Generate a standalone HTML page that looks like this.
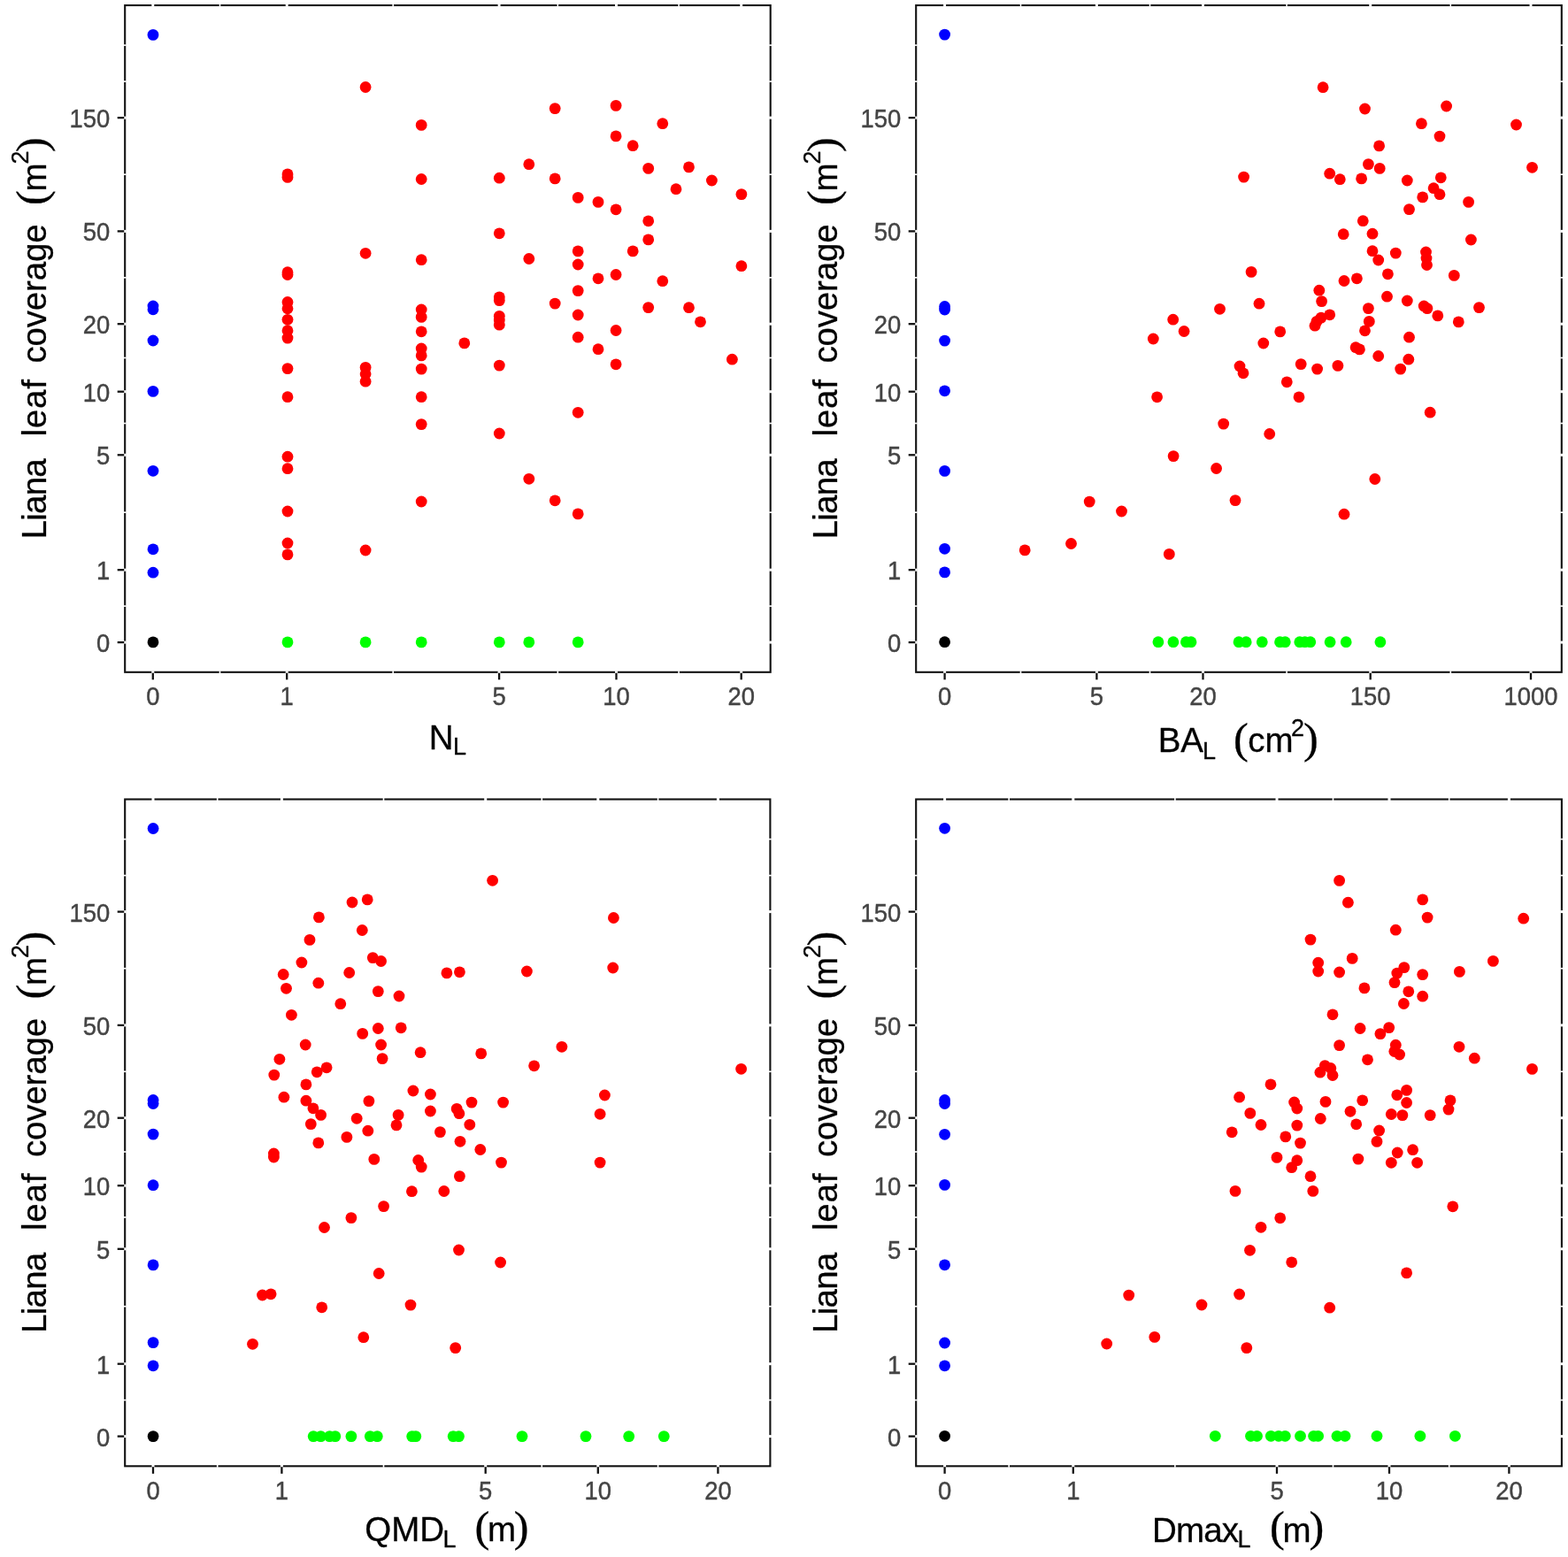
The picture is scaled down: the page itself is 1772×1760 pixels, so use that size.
<!DOCTYPE html><html><head><meta charset="utf-8"><style>html,body{margin:0;padding:0;background:#fff;overflow:hidden;}svg{display:block;}text{font-family:"Liberation Sans",Arial,sans-serif;} .t text{stroke:#000;stroke-width:0.3px;}</style></head><body>
<svg width="1772" height="1760" viewBox="0 0 1772 1760">
<rect width="1772" height="1760" fill="#fff"/>
<g id="TL">
<rect x="141.2" y="6" width="729.5" height="753.8" fill="none" stroke="#111111" stroke-width="2.1"/>
<line x1="248.5" y1="4.5" x2="248.5" y2="7.5" stroke="#fff" stroke-width="1.6"/>
<line x1="248.5" y1="758.3" x2="248.5" y2="761.3" stroke="#fff" stroke-width="1.6"/>
<line x1="444.2" y1="4.5" x2="444.2" y2="7.5" stroke="#fff" stroke-width="1.6"/>
<line x1="444.2" y1="758.3" x2="444.2" y2="761.3" stroke="#fff" stroke-width="1.6"/>
<line x1="630.3" y1="4.5" x2="630.3" y2="7.5" stroke="#fff" stroke-width="1.6"/>
<line x1="630.3" y1="758.3" x2="630.3" y2="761.3" stroke="#fff" stroke-width="1.6"/>
<line x1="767.1" y1="4.5" x2="767.1" y2="7.5" stroke="#fff" stroke-width="1.6"/>
<line x1="767.1" y1="758.3" x2="767.1" y2="761.3" stroke="#fff" stroke-width="1.6"/>
<line x1="172.8" y1="4.5" x2="172.8" y2="7.5" stroke="#fff" stroke-width="3"/>
<line x1="172.8" y1="758.3" x2="172.8" y2="761.3" stroke="#fff" stroke-width="3"/>
<line x1="324.2" y1="4.5" x2="324.2" y2="7.5" stroke="#fff" stroke-width="3"/>
<line x1="324.2" y1="758.3" x2="324.2" y2="761.3" stroke="#fff" stroke-width="3"/>
<line x1="564.1" y1="4.5" x2="564.1" y2="7.5" stroke="#fff" stroke-width="3"/>
<line x1="564.1" y1="758.3" x2="564.1" y2="761.3" stroke="#fff" stroke-width="3"/>
<line x1="696.5" y1="4.5" x2="696.5" y2="7.5" stroke="#fff" stroke-width="3"/>
<line x1="696.5" y1="758.3" x2="696.5" y2="761.3" stroke="#fff" stroke-width="3"/>
<line x1="837.7" y1="4.5" x2="837.7" y2="7.5" stroke="#fff" stroke-width="3"/>
<line x1="837.7" y1="758.3" x2="837.7" y2="761.3" stroke="#fff" stroke-width="3"/>
<line x1="139.7" y1="685.1" x2="142.7" y2="685.1" stroke="#fff" stroke-width="1.6"/>
<line x1="869.2" y1="685.1" x2="872.2" y2="685.1" stroke="#fff" stroke-width="1.6"/>
<line x1="139.7" y1="579.2" x2="142.7" y2="579.2" stroke="#fff" stroke-width="1.6"/>
<line x1="869.2" y1="579.2" x2="872.2" y2="579.2" stroke="#fff" stroke-width="1.6"/>
<line x1="139.7" y1="478.5" x2="142.7" y2="478.5" stroke="#fff" stroke-width="1.6"/>
<line x1="869.2" y1="478.5" x2="872.2" y2="478.5" stroke="#fff" stroke-width="1.6"/>
<line x1="139.7" y1="404.5" x2="142.7" y2="404.5" stroke="#fff" stroke-width="1.6"/>
<line x1="869.2" y1="404.5" x2="872.2" y2="404.5" stroke="#fff" stroke-width="1.6"/>
<line x1="139.7" y1="313.8" x2="142.7" y2="313.8" stroke="#fff" stroke-width="1.6"/>
<line x1="869.2" y1="313.8" x2="872.2" y2="313.8" stroke="#fff" stroke-width="1.6"/>
<line x1="139.7" y1="197.2" x2="142.7" y2="197.2" stroke="#fff" stroke-width="1.6"/>
<line x1="869.2" y1="197.2" x2="872.2" y2="197.2" stroke="#fff" stroke-width="1.6"/>
<line x1="139.7" y1="92.1" x2="142.7" y2="92.1" stroke="#fff" stroke-width="1.6"/>
<line x1="869.2" y1="92.1" x2="872.2" y2="92.1" stroke="#fff" stroke-width="1.6"/>
<line x1="139.7" y1="51.1" x2="142.7" y2="51.1" stroke="#fff" stroke-width="1.6"/>
<line x1="869.2" y1="51.1" x2="872.2" y2="51.1" stroke="#fff" stroke-width="1.6"/>
<line x1="869.2" y1="726.1" x2="872.2" y2="726.1" stroke="#fff" stroke-width="3"/>
<line x1="139.7" y1="726.1" x2="142.7" y2="726.1" stroke="#fff" stroke-width="3"/>
<line x1="869.2" y1="644.2" x2="872.2" y2="644.2" stroke="#fff" stroke-width="3"/>
<line x1="139.7" y1="644.2" x2="142.7" y2="644.2" stroke="#fff" stroke-width="3"/>
<line x1="869.2" y1="514.3" x2="872.2" y2="514.3" stroke="#fff" stroke-width="3"/>
<line x1="139.7" y1="514.3" x2="142.7" y2="514.3" stroke="#fff" stroke-width="3"/>
<line x1="869.2" y1="442.7" x2="872.2" y2="442.7" stroke="#fff" stroke-width="3"/>
<line x1="139.7" y1="442.7" x2="142.7" y2="442.7" stroke="#fff" stroke-width="3"/>
<line x1="869.2" y1="366.2" x2="872.2" y2="366.2" stroke="#fff" stroke-width="3"/>
<line x1="139.7" y1="366.2" x2="142.7" y2="366.2" stroke="#fff" stroke-width="3"/>
<line x1="869.2" y1="261.4" x2="872.2" y2="261.4" stroke="#fff" stroke-width="3"/>
<line x1="139.7" y1="261.4" x2="142.7" y2="261.4" stroke="#fff" stroke-width="3"/>
<line x1="869.2" y1="133.1" x2="872.2" y2="133.1" stroke="#fff" stroke-width="3"/>
<line x1="139.7" y1="133.1" x2="142.7" y2="133.1" stroke="#fff" stroke-width="3"/>
<line x1="172.8" y1="760.7" x2="172.8" y2="768.3" stroke="#111111" stroke-width="2.3"/>
<text transform="translate(172.8,797) scale(1,1.07)" font-size="27.4" fill="#444444" stroke="#444444" stroke-width="0.4" text-anchor="middle">0</text>
<line x1="324.2" y1="760.7" x2="324.2" y2="768.3" stroke="#111111" stroke-width="2.3"/>
<text transform="translate(324.2,797) scale(1,1.07)" font-size="27.4" fill="#444444" stroke="#444444" stroke-width="0.4" text-anchor="middle">1</text>
<line x1="564.1" y1="760.7" x2="564.1" y2="768.3" stroke="#111111" stroke-width="2.3"/>
<text transform="translate(564.1,797) scale(1,1.07)" font-size="27.4" fill="#444444" stroke="#444444" stroke-width="0.4" text-anchor="middle">5</text>
<line x1="696.5" y1="760.7" x2="696.5" y2="768.3" stroke="#111111" stroke-width="2.3"/>
<text transform="translate(696.5,797) scale(1,1.07)" font-size="27.4" fill="#444444" stroke="#444444" stroke-width="0.4" text-anchor="middle">10</text>
<line x1="837.7" y1="760.7" x2="837.7" y2="768.3" stroke="#111111" stroke-width="2.3"/>
<text transform="translate(837.7,797) scale(1,1.07)" font-size="27.4" fill="#444444" stroke="#444444" stroke-width="0.4" text-anchor="middle">20</text>
<line x1="132.7" y1="726.1" x2="140.3" y2="726.1" stroke="#111111" stroke-width="2.3"/>
<text transform="translate(124.2,737.1) scale(1,1.07)" font-size="27.4" fill="#444444" stroke="#444444" stroke-width="0.4" text-anchor="end">0</text>
<line x1="132.7" y1="644.2" x2="140.3" y2="644.2" stroke="#111111" stroke-width="2.3"/>
<text transform="translate(124.2,655.2) scale(1,1.07)" font-size="27.4" fill="#444444" stroke="#444444" stroke-width="0.4" text-anchor="end">1</text>
<line x1="132.7" y1="514.3" x2="140.3" y2="514.3" stroke="#111111" stroke-width="2.3"/>
<text transform="translate(124.2,525.3) scale(1,1.07)" font-size="27.4" fill="#444444" stroke="#444444" stroke-width="0.4" text-anchor="end">5</text>
<line x1="132.7" y1="442.7" x2="140.3" y2="442.7" stroke="#111111" stroke-width="2.3"/>
<text transform="translate(124.2,453.7) scale(1,1.07)" font-size="27.4" fill="#444444" stroke="#444444" stroke-width="0.4" text-anchor="end">10</text>
<line x1="132.7" y1="366.2" x2="140.3" y2="366.2" stroke="#111111" stroke-width="2.3"/>
<text transform="translate(124.2,377.2) scale(1,1.07)" font-size="27.4" fill="#444444" stroke="#444444" stroke-width="0.4" text-anchor="end">20</text>
<line x1="132.7" y1="261.4" x2="140.3" y2="261.4" stroke="#111111" stroke-width="2.3"/>
<text transform="translate(124.2,272.4) scale(1,1.07)" font-size="27.4" fill="#444444" stroke="#444444" stroke-width="0.4" text-anchor="end">50</text>
<line x1="132.7" y1="133.1" x2="140.3" y2="133.1" stroke="#111111" stroke-width="2.3"/>
<text transform="translate(124.2,144.1) scale(1,1.07)" font-size="27.4" fill="#444444" stroke="#444444" stroke-width="0.4" text-anchor="end">150</text>
<circle cx="173" cy="39.4" r="6.4" fill="#0000ff"/>
<circle cx="173" cy="346" r="6.4" fill="#0000ff"/>
<circle cx="173" cy="349.8" r="6.4" fill="#0000ff"/>
<circle cx="173" cy="385" r="6.4" fill="#0000ff"/>
<circle cx="173" cy="442.4" r="6.4" fill="#0000ff"/>
<circle cx="173" cy="532.3" r="6.4" fill="#0000ff"/>
<circle cx="173" cy="620.8" r="6.4" fill="#0000ff"/>
<circle cx="173" cy="647.2" r="6.4" fill="#0000ff"/>
<circle cx="173" cy="725.9" r="6.4" fill="#000000"/>
<circle cx="325" cy="196.8" r="6.4" fill="#ff0000"/>
<circle cx="325" cy="200.4" r="6.4" fill="#ff0000"/>
<circle cx="325" cy="307.7" r="6.4" fill="#ff0000"/>
<circle cx="325" cy="310.5" r="6.4" fill="#ff0000"/>
<circle cx="325" cy="341.5" r="6.4" fill="#ff0000"/>
<circle cx="325" cy="348.8" r="6.4" fill="#ff0000"/>
<circle cx="325" cy="361.3" r="6.4" fill="#ff0000"/>
<circle cx="325" cy="373.7" r="6.4" fill="#ff0000"/>
<circle cx="325" cy="382.1" r="6.4" fill="#ff0000"/>
<circle cx="325" cy="416.6" r="6.4" fill="#ff0000"/>
<circle cx="325" cy="448.7" r="6.4" fill="#ff0000"/>
<circle cx="325" cy="516.2" r="6.4" fill="#ff0000"/>
<circle cx="325" cy="529.7" r="6.4" fill="#ff0000"/>
<circle cx="325" cy="578" r="6.4" fill="#ff0000"/>
<circle cx="325" cy="614" r="6.4" fill="#ff0000"/>
<circle cx="325" cy="626.9" r="6.4" fill="#ff0000"/>
<circle cx="413.1" cy="98.5" r="6.4" fill="#ff0000"/>
<circle cx="413.1" cy="286.3" r="6.4" fill="#ff0000"/>
<circle cx="413.1" cy="415.4" r="6.4" fill="#ff0000"/>
<circle cx="413.1" cy="422.8" r="6.4" fill="#ff0000"/>
<circle cx="413.1" cy="431.2" r="6.4" fill="#ff0000"/>
<circle cx="413.1" cy="622" r="6.4" fill="#ff0000"/>
<circle cx="476.2" cy="141.4" r="6.4" fill="#ff0000"/>
<circle cx="476.2" cy="202.5" r="6.4" fill="#ff0000"/>
<circle cx="476.2" cy="293.7" r="6.4" fill="#ff0000"/>
<circle cx="476.2" cy="350" r="6.4" fill="#ff0000"/>
<circle cx="476.2" cy="358.4" r="6.4" fill="#ff0000"/>
<circle cx="476.2" cy="374.8" r="6.4" fill="#ff0000"/>
<circle cx="476.2" cy="394" r="6.4" fill="#ff0000"/>
<circle cx="476.2" cy="401.9" r="6.4" fill="#ff0000"/>
<circle cx="476.2" cy="417.1" r="6.4" fill="#ff0000"/>
<circle cx="476.2" cy="448.7" r="6.4" fill="#ff0000"/>
<circle cx="476.2" cy="479.6" r="6.4" fill="#ff0000"/>
<circle cx="476.2" cy="567" r="6.4" fill="#ff0000"/>
<circle cx="524.8" cy="387.9" r="6.4" fill="#ff0000"/>
<circle cx="564.3" cy="201.2" r="6.4" fill="#ff0000"/>
<circle cx="564.3" cy="263.8" r="6.4" fill="#ff0000"/>
<circle cx="564.3" cy="335.8" r="6.4" fill="#ff0000"/>
<circle cx="564.3" cy="339.6" r="6.4" fill="#ff0000"/>
<circle cx="564.3" cy="357.3" r="6.4" fill="#ff0000"/>
<circle cx="564.3" cy="362" r="6.4" fill="#ff0000"/>
<circle cx="564.3" cy="367.2" r="6.4" fill="#ff0000"/>
<circle cx="564.3" cy="413.1" r="6.4" fill="#ff0000"/>
<circle cx="564.3" cy="490" r="6.4" fill="#ff0000"/>
<circle cx="597.8" cy="185.7" r="6.4" fill="#ff0000"/>
<circle cx="597.8" cy="292.5" r="6.4" fill="#ff0000"/>
<circle cx="597.8" cy="541.3" r="6.4" fill="#ff0000"/>
<circle cx="627.2" cy="122.6" r="6.4" fill="#ff0000"/>
<circle cx="627.2" cy="201.9" r="6.4" fill="#ff0000"/>
<circle cx="627.2" cy="343.1" r="6.4" fill="#ff0000"/>
<circle cx="627.2" cy="565.8" r="6.4" fill="#ff0000"/>
<circle cx="653.2" cy="223.4" r="6.4" fill="#ff0000"/>
<circle cx="653.2" cy="283.9" r="6.4" fill="#ff0000"/>
<circle cx="653.2" cy="299" r="6.4" fill="#ff0000"/>
<circle cx="653.2" cy="328.6" r="6.4" fill="#ff0000"/>
<circle cx="653.2" cy="356" r="6.4" fill="#ff0000"/>
<circle cx="653.2" cy="381.2" r="6.4" fill="#ff0000"/>
<circle cx="653.2" cy="466.3" r="6.4" fill="#ff0000"/>
<circle cx="653.2" cy="580.9" r="6.4" fill="#ff0000"/>
<circle cx="676" cy="228.4" r="6.4" fill="#ff0000"/>
<circle cx="676" cy="314.8" r="6.4" fill="#ff0000"/>
<circle cx="676" cy="394.7" r="6.4" fill="#ff0000"/>
<circle cx="696.1" cy="119.4" r="6.4" fill="#ff0000"/>
<circle cx="696.1" cy="153.9" r="6.4" fill="#ff0000"/>
<circle cx="696.1" cy="236.8" r="6.4" fill="#ff0000"/>
<circle cx="696.1" cy="310.5" r="6.4" fill="#ff0000"/>
<circle cx="696.1" cy="373.5" r="6.4" fill="#ff0000"/>
<circle cx="696.1" cy="411.8" r="6.4" fill="#ff0000"/>
<circle cx="715.2" cy="164.7" r="6.4" fill="#ff0000"/>
<circle cx="715.2" cy="283.9" r="6.4" fill="#ff0000"/>
<circle cx="732.7" cy="190.4" r="6.4" fill="#ff0000"/>
<circle cx="732.7" cy="249.8" r="6.4" fill="#ff0000"/>
<circle cx="732.7" cy="270.9" r="6.4" fill="#ff0000"/>
<circle cx="732.7" cy="347.6" r="6.4" fill="#ff0000"/>
<circle cx="748.8" cy="139.7" r="6.4" fill="#ff0000"/>
<circle cx="748.8" cy="317.7" r="6.4" fill="#ff0000"/>
<circle cx="764" cy="213.7" r="6.4" fill="#ff0000"/>
<circle cx="778.5" cy="188.9" r="6.4" fill="#ff0000"/>
<circle cx="778.5" cy="347.7" r="6.4" fill="#ff0000"/>
<circle cx="791.5" cy="363.8" r="6.4" fill="#ff0000"/>
<circle cx="804.4" cy="204" r="6.4" fill="#ff0000"/>
<circle cx="827.4" cy="406.2" r="6.4" fill="#ff0000"/>
<circle cx="837.9" cy="219.6" r="6.4" fill="#ff0000"/>
<circle cx="837.9" cy="300.7" r="6.4" fill="#ff0000"/>
<circle cx="325" cy="725.9" r="6.4" fill="#00ff00"/>
<circle cx="413.1" cy="725.9" r="6.4" fill="#00ff00"/>
<circle cx="476.2" cy="725.9" r="6.4" fill="#00ff00"/>
<circle cx="564.3" cy="725.9" r="6.4" fill="#00ff00"/>
<circle cx="597.8" cy="725.9" r="6.4" fill="#00ff00"/>
<circle cx="653.2" cy="725.9" r="6.4" fill="#00ff00"/>
</g>
<g id="TR">
<rect x="1035.2" y="6" width="729.6" height="753.8" fill="none" stroke="#111111" stroke-width="2.1"/>
<line x1="1153.5" y1="4.5" x2="1153.5" y2="7.5" stroke="#fff" stroke-width="1.6"/>
<line x1="1153.5" y1="758.3" x2="1153.5" y2="761.3" stroke="#fff" stroke-width="1.6"/>
<line x1="1299.5" y1="4.5" x2="1299.5" y2="7.5" stroke="#fff" stroke-width="1.6"/>
<line x1="1299.5" y1="758.3" x2="1299.5" y2="761.3" stroke="#fff" stroke-width="1.6"/>
<line x1="1454.1" y1="4.5" x2="1454.1" y2="7.5" stroke="#fff" stroke-width="1.6"/>
<line x1="1454.1" y1="758.3" x2="1454.1" y2="761.3" stroke="#fff" stroke-width="1.6"/>
<line x1="1639.3" y1="4.5" x2="1639.3" y2="7.5" stroke="#fff" stroke-width="1.6"/>
<line x1="1639.3" y1="758.3" x2="1639.3" y2="761.3" stroke="#fff" stroke-width="1.6"/>
<line x1="1067.6" y1="4.5" x2="1067.6" y2="7.5" stroke="#fff" stroke-width="3"/>
<line x1="1067.6" y1="758.3" x2="1067.6" y2="761.3" stroke="#fff" stroke-width="3"/>
<line x1="1239.4" y1="4.5" x2="1239.4" y2="7.5" stroke="#fff" stroke-width="3"/>
<line x1="1239.4" y1="758.3" x2="1239.4" y2="761.3" stroke="#fff" stroke-width="3"/>
<line x1="1359.5" y1="4.5" x2="1359.5" y2="7.5" stroke="#fff" stroke-width="3"/>
<line x1="1359.5" y1="758.3" x2="1359.5" y2="761.3" stroke="#fff" stroke-width="3"/>
<line x1="1548.7" y1="4.5" x2="1548.7" y2="7.5" stroke="#fff" stroke-width="3"/>
<line x1="1548.7" y1="758.3" x2="1548.7" y2="761.3" stroke="#fff" stroke-width="3"/>
<line x1="1730" y1="4.5" x2="1730" y2="7.5" stroke="#fff" stroke-width="3"/>
<line x1="1730" y1="758.3" x2="1730" y2="761.3" stroke="#fff" stroke-width="3"/>
<line x1="1033.7" y1="685.1" x2="1036.7" y2="685.1" stroke="#fff" stroke-width="1.6"/>
<line x1="1763.3" y1="685.1" x2="1766.3" y2="685.1" stroke="#fff" stroke-width="1.6"/>
<line x1="1033.7" y1="579.2" x2="1036.7" y2="579.2" stroke="#fff" stroke-width="1.6"/>
<line x1="1763.3" y1="579.2" x2="1766.3" y2="579.2" stroke="#fff" stroke-width="1.6"/>
<line x1="1033.7" y1="478.5" x2="1036.7" y2="478.5" stroke="#fff" stroke-width="1.6"/>
<line x1="1763.3" y1="478.5" x2="1766.3" y2="478.5" stroke="#fff" stroke-width="1.6"/>
<line x1="1033.7" y1="404.5" x2="1036.7" y2="404.5" stroke="#fff" stroke-width="1.6"/>
<line x1="1763.3" y1="404.5" x2="1766.3" y2="404.5" stroke="#fff" stroke-width="1.6"/>
<line x1="1033.7" y1="313.8" x2="1036.7" y2="313.8" stroke="#fff" stroke-width="1.6"/>
<line x1="1763.3" y1="313.8" x2="1766.3" y2="313.8" stroke="#fff" stroke-width="1.6"/>
<line x1="1033.7" y1="197.2" x2="1036.7" y2="197.2" stroke="#fff" stroke-width="1.6"/>
<line x1="1763.3" y1="197.2" x2="1766.3" y2="197.2" stroke="#fff" stroke-width="1.6"/>
<line x1="1033.7" y1="92.1" x2="1036.7" y2="92.1" stroke="#fff" stroke-width="1.6"/>
<line x1="1763.3" y1="92.1" x2="1766.3" y2="92.1" stroke="#fff" stroke-width="1.6"/>
<line x1="1033.7" y1="51.1" x2="1036.7" y2="51.1" stroke="#fff" stroke-width="1.6"/>
<line x1="1763.3" y1="51.1" x2="1766.3" y2="51.1" stroke="#fff" stroke-width="1.6"/>
<line x1="1763.3" y1="726.1" x2="1766.3" y2="726.1" stroke="#fff" stroke-width="3"/>
<line x1="1033.7" y1="726.1" x2="1036.7" y2="726.1" stroke="#fff" stroke-width="3"/>
<line x1="1763.3" y1="644.2" x2="1766.3" y2="644.2" stroke="#fff" stroke-width="3"/>
<line x1="1033.7" y1="644.2" x2="1036.7" y2="644.2" stroke="#fff" stroke-width="3"/>
<line x1="1763.3" y1="514.3" x2="1766.3" y2="514.3" stroke="#fff" stroke-width="3"/>
<line x1="1033.7" y1="514.3" x2="1036.7" y2="514.3" stroke="#fff" stroke-width="3"/>
<line x1="1763.3" y1="442.7" x2="1766.3" y2="442.7" stroke="#fff" stroke-width="3"/>
<line x1="1033.7" y1="442.7" x2="1036.7" y2="442.7" stroke="#fff" stroke-width="3"/>
<line x1="1763.3" y1="366.2" x2="1766.3" y2="366.2" stroke="#fff" stroke-width="3"/>
<line x1="1033.7" y1="366.2" x2="1036.7" y2="366.2" stroke="#fff" stroke-width="3"/>
<line x1="1763.3" y1="261.4" x2="1766.3" y2="261.4" stroke="#fff" stroke-width="3"/>
<line x1="1033.7" y1="261.4" x2="1036.7" y2="261.4" stroke="#fff" stroke-width="3"/>
<line x1="1763.3" y1="133.1" x2="1766.3" y2="133.1" stroke="#fff" stroke-width="3"/>
<line x1="1033.7" y1="133.1" x2="1036.7" y2="133.1" stroke="#fff" stroke-width="3"/>
<line x1="1067.6" y1="760.7" x2="1067.6" y2="768.3" stroke="#111111" stroke-width="2.3"/>
<text transform="translate(1067.6,797) scale(1,1.07)" font-size="27.4" fill="#444444" stroke="#444444" stroke-width="0.4" text-anchor="middle">0</text>
<line x1="1239.4" y1="760.7" x2="1239.4" y2="768.3" stroke="#111111" stroke-width="2.3"/>
<text transform="translate(1239.4,797) scale(1,1.07)" font-size="27.4" fill="#444444" stroke="#444444" stroke-width="0.4" text-anchor="middle">5</text>
<line x1="1359.5" y1="760.7" x2="1359.5" y2="768.3" stroke="#111111" stroke-width="2.3"/>
<text transform="translate(1359.5,797) scale(1,1.07)" font-size="27.4" fill="#444444" stroke="#444444" stroke-width="0.4" text-anchor="middle">20</text>
<line x1="1548.7" y1="760.7" x2="1548.7" y2="768.3" stroke="#111111" stroke-width="2.3"/>
<text transform="translate(1548.7,797) scale(1,1.07)" font-size="27.4" fill="#444444" stroke="#444444" stroke-width="0.4" text-anchor="middle">150</text>
<line x1="1730" y1="760.7" x2="1730" y2="768.3" stroke="#111111" stroke-width="2.3"/>
<text transform="translate(1730,797) scale(1,1.07)" font-size="27.4" fill="#444444" stroke="#444444" stroke-width="0.4" text-anchor="middle">1000</text>
<line x1="1026.7" y1="726.1" x2="1034.3" y2="726.1" stroke="#111111" stroke-width="2.3"/>
<text transform="translate(1018.2,737.1) scale(1,1.07)" font-size="27.4" fill="#444444" stroke="#444444" stroke-width="0.4" text-anchor="end">0</text>
<line x1="1026.7" y1="644.2" x2="1034.3" y2="644.2" stroke="#111111" stroke-width="2.3"/>
<text transform="translate(1018.2,655.2) scale(1,1.07)" font-size="27.4" fill="#444444" stroke="#444444" stroke-width="0.4" text-anchor="end">1</text>
<line x1="1026.7" y1="514.3" x2="1034.3" y2="514.3" stroke="#111111" stroke-width="2.3"/>
<text transform="translate(1018.2,525.3) scale(1,1.07)" font-size="27.4" fill="#444444" stroke="#444444" stroke-width="0.4" text-anchor="end">5</text>
<line x1="1026.7" y1="442.7" x2="1034.3" y2="442.7" stroke="#111111" stroke-width="2.3"/>
<text transform="translate(1018.2,453.7) scale(1,1.07)" font-size="27.4" fill="#444444" stroke="#444444" stroke-width="0.4" text-anchor="end">10</text>
<line x1="1026.7" y1="366.2" x2="1034.3" y2="366.2" stroke="#111111" stroke-width="2.3"/>
<text transform="translate(1018.2,377.2) scale(1,1.07)" font-size="27.4" fill="#444444" stroke="#444444" stroke-width="0.4" text-anchor="end">20</text>
<line x1="1026.7" y1="261.4" x2="1034.3" y2="261.4" stroke="#111111" stroke-width="2.3"/>
<text transform="translate(1018.2,272.4) scale(1,1.07)" font-size="27.4" fill="#444444" stroke="#444444" stroke-width="0.4" text-anchor="end">50</text>
<line x1="1026.7" y1="133.1" x2="1034.3" y2="133.1" stroke="#111111" stroke-width="2.3"/>
<text transform="translate(1018.2,144.1) scale(1,1.07)" font-size="27.4" fill="#444444" stroke="#444444" stroke-width="0.4" text-anchor="end">150</text>
<circle cx="1067.6" cy="39.1" r="6.4" fill="#0000ff"/>
<circle cx="1067.6" cy="346.5" r="6.4" fill="#0000ff"/>
<circle cx="1067.6" cy="350" r="6.4" fill="#0000ff"/>
<circle cx="1067.6" cy="385.1" r="6.4" fill="#0000ff"/>
<circle cx="1067.6" cy="441.8" r="6.4" fill="#0000ff"/>
<circle cx="1067.6" cy="532.4" r="6.4" fill="#0000ff"/>
<circle cx="1067.6" cy="620.3" r="6.4" fill="#0000ff"/>
<circle cx="1067.6" cy="646.9" r="6.4" fill="#0000ff"/>
<circle cx="1067.6" cy="725.7" r="6.4" fill="#000000"/>
<circle cx="1495.1" cy="98.7" r="6.4" fill="#ff0000"/>
<circle cx="1542.5" cy="123" r="6.4" fill="#ff0000"/>
<circle cx="1634.6" cy="120" r="6.4" fill="#ff0000"/>
<circle cx="1606.4" cy="139.7" r="6.4" fill="#ff0000"/>
<circle cx="1713.5" cy="141" r="6.4" fill="#ff0000"/>
<circle cx="1627" cy="154.1" r="6.4" fill="#ff0000"/>
<circle cx="1558.6" cy="164.9" r="6.4" fill="#ff0000"/>
<circle cx="1546.4" cy="185.6" r="6.4" fill="#ff0000"/>
<circle cx="1559.2" cy="190.4" r="6.4" fill="#ff0000"/>
<circle cx="1731.5" cy="189.3" r="6.4" fill="#ff0000"/>
<circle cx="1405.6" cy="200.1" r="6.4" fill="#ff0000"/>
<circle cx="1502.7" cy="196.2" r="6.4" fill="#ff0000"/>
<circle cx="1514.3" cy="202.7" r="6.4" fill="#ff0000"/>
<circle cx="1538.6" cy="201.9" r="6.4" fill="#ff0000"/>
<circle cx="1590.3" cy="204" r="6.4" fill="#ff0000"/>
<circle cx="1628.3" cy="200.8" r="6.4" fill="#ff0000"/>
<circle cx="1620.1" cy="212.7" r="6.4" fill="#ff0000"/>
<circle cx="1627" cy="219.7" r="6.4" fill="#ff0000"/>
<circle cx="1607.7" cy="222.9" r="6.4" fill="#ff0000"/>
<circle cx="1659.6" cy="228.4" r="6.4" fill="#ff0000"/>
<circle cx="1592.5" cy="236.6" r="6.4" fill="#ff0000"/>
<circle cx="1540.3" cy="249.7" r="6.4" fill="#ff0000"/>
<circle cx="1518.2" cy="264.7" r="6.4" fill="#ff0000"/>
<circle cx="1551" cy="264.2" r="6.4" fill="#ff0000"/>
<circle cx="1662.4" cy="271" r="6.4" fill="#ff0000"/>
<circle cx="1551" cy="283.7" r="6.4" fill="#ff0000"/>
<circle cx="1577.3" cy="286.1" r="6.4" fill="#ff0000"/>
<circle cx="1557.7" cy="294" r="6.4" fill="#ff0000"/>
<circle cx="1611.5" cy="285" r="6.4" fill="#ff0000"/>
<circle cx="1612" cy="292" r="6.4" fill="#ff0000"/>
<circle cx="1612.5" cy="299.5" r="6.4" fill="#ff0000"/>
<circle cx="1414.1" cy="307.4" r="6.4" fill="#ff0000"/>
<circle cx="1568.4" cy="309.8" r="6.4" fill="#ff0000"/>
<circle cx="1643.3" cy="311.4" r="6.4" fill="#ff0000"/>
<circle cx="1519" cy="317.5" r="6.4" fill="#ff0000"/>
<circle cx="1533.4" cy="314.8" r="6.4" fill="#ff0000"/>
<circle cx="1490.8" cy="328.2" r="6.4" fill="#ff0000"/>
<circle cx="1493.6" cy="340.6" r="6.4" fill="#ff0000"/>
<circle cx="1423" cy="343.2" r="6.4" fill="#ff0000"/>
<circle cx="1378.5" cy="349.3" r="6.4" fill="#ff0000"/>
<circle cx="1567.5" cy="335.2" r="6.4" fill="#ff0000"/>
<circle cx="1590.3" cy="340" r="6.4" fill="#ff0000"/>
<circle cx="1609.2" cy="346" r="6.4" fill="#ff0000"/>
<circle cx="1612.9" cy="348.6" r="6.4" fill="#ff0000"/>
<circle cx="1624.8" cy="356.9" r="6.4" fill="#ff0000"/>
<circle cx="1648.3" cy="363.9" r="6.4" fill="#ff0000"/>
<circle cx="1671.5" cy="347.6" r="6.4" fill="#ff0000"/>
<circle cx="1546.4" cy="348.6" r="6.4" fill="#ff0000"/>
<circle cx="1547.3" cy="363.4" r="6.4" fill="#ff0000"/>
<circle cx="1542.5" cy="373.8" r="6.4" fill="#ff0000"/>
<circle cx="1502.7" cy="355.8" r="6.4" fill="#ff0000"/>
<circle cx="1493" cy="359.1" r="6.4" fill="#ff0000"/>
<circle cx="1488" cy="363.4" r="6.4" fill="#ff0000"/>
<circle cx="1486" cy="368.2" r="6.4" fill="#ff0000"/>
<circle cx="1446.7" cy="374.9" r="6.4" fill="#ff0000"/>
<circle cx="1427.8" cy="388" r="6.4" fill="#ff0000"/>
<circle cx="1592.5" cy="381.2" r="6.4" fill="#ff0000"/>
<circle cx="1532.1" cy="392.7" r="6.4" fill="#ff0000"/>
<circle cx="1536.4" cy="394.9" r="6.4" fill="#ff0000"/>
<circle cx="1557.7" cy="402.5" r="6.4" fill="#ff0000"/>
<circle cx="1591.8" cy="406.2" r="6.4" fill="#ff0000"/>
<circle cx="1582.7" cy="417.1" r="6.4" fill="#ff0000"/>
<circle cx="1401" cy="414" r="6.4" fill="#ff0000"/>
<circle cx="1405" cy="421.8" r="6.4" fill="#ff0000"/>
<circle cx="1470.2" cy="411.6" r="6.4" fill="#ff0000"/>
<circle cx="1488.6" cy="417.1" r="6.4" fill="#ff0000"/>
<circle cx="1511.9" cy="413.4" r="6.4" fill="#ff0000"/>
<circle cx="1454.3" cy="431.8" r="6.4" fill="#ff0000"/>
<circle cx="1468" cy="448.8" r="6.4" fill="#ff0000"/>
<circle cx="1616.2" cy="466.2" r="6.4" fill="#ff0000"/>
<circle cx="1382.7" cy="479.1" r="6.4" fill="#ff0000"/>
<circle cx="1434.7" cy="490.5" r="6.4" fill="#ff0000"/>
<circle cx="1325.7" cy="361.2" r="6.4" fill="#ff0000"/>
<circle cx="1338.1" cy="374.5" r="6.4" fill="#ff0000"/>
<circle cx="1303.3" cy="383" r="6.4" fill="#ff0000"/>
<circle cx="1307.6" cy="448.8" r="6.4" fill="#ff0000"/>
<circle cx="1326.1" cy="515.6" r="6.4" fill="#ff0000"/>
<circle cx="1374.6" cy="529.5" r="6.4" fill="#ff0000"/>
<circle cx="1231.2" cy="567.1" r="6.4" fill="#ff0000"/>
<circle cx="1267.5" cy="578" r="6.4" fill="#ff0000"/>
<circle cx="1396" cy="565.6" r="6.4" fill="#ff0000"/>
<circle cx="1158.2" cy="621.9" r="6.4" fill="#ff0000"/>
<circle cx="1210.5" cy="614.5" r="6.4" fill="#ff0000"/>
<circle cx="1321.3" cy="626.4" r="6.4" fill="#ff0000"/>
<circle cx="1553.8" cy="541.5" r="6.4" fill="#ff0000"/>
<circle cx="1519" cy="581.2" r="6.4" fill="#ff0000"/>
<circle cx="1308.9" cy="725.7" r="6.4" fill="#00ff00"/>
<circle cx="1325.9" cy="725.7" r="6.4" fill="#00ff00"/>
<circle cx="1340.4" cy="725.7" r="6.4" fill="#00ff00"/>
<circle cx="1346" cy="725.7" r="6.4" fill="#00ff00"/>
<circle cx="1400" cy="725.7" r="6.4" fill="#00ff00"/>
<circle cx="1408.2" cy="725.7" r="6.4" fill="#00ff00"/>
<circle cx="1426.3" cy="725.7" r="6.4" fill="#00ff00"/>
<circle cx="1446.5" cy="725.7" r="6.4" fill="#00ff00"/>
<circle cx="1452.3" cy="725.7" r="6.4" fill="#00ff00"/>
<circle cx="1468.8" cy="725.7" r="6.4" fill="#00ff00"/>
<circle cx="1474.7" cy="725.7" r="6.4" fill="#00ff00"/>
<circle cx="1480.8" cy="725.7" r="6.4" fill="#00ff00"/>
<circle cx="1503.1" cy="725.7" r="6.4" fill="#00ff00"/>
<circle cx="1521.2" cy="725.7" r="6.4" fill="#00ff00"/>
<circle cx="1559.9" cy="725.7" r="6.4" fill="#00ff00"/>
</g>
<g id="BL">
<rect x="141.2" y="903.5" width="729.2" height="753.8" fill="none" stroke="#111111" stroke-width="2.1"/>
<line x1="245.7" y1="902" x2="245.7" y2="905" stroke="#fff" stroke-width="1.6"/>
<line x1="245.7" y1="1655.8" x2="245.7" y2="1658.8" stroke="#fff" stroke-width="1.6"/>
<line x1="433.5" y1="902" x2="433.5" y2="905" stroke="#fff" stroke-width="1.6"/>
<line x1="433.5" y1="1655.8" x2="433.5" y2="1658.8" stroke="#fff" stroke-width="1.6"/>
<line x1="612.3" y1="902" x2="612.3" y2="905" stroke="#fff" stroke-width="1.6"/>
<line x1="612.3" y1="1655.8" x2="612.3" y2="1658.8" stroke="#fff" stroke-width="1.6"/>
<line x1="743.6" y1="902" x2="743.6" y2="905" stroke="#fff" stroke-width="1.6"/>
<line x1="743.6" y1="1655.8" x2="743.6" y2="1658.8" stroke="#fff" stroke-width="1.6"/>
<line x1="173" y1="902" x2="173" y2="905" stroke="#fff" stroke-width="3"/>
<line x1="173" y1="1655.8" x2="173" y2="1658.8" stroke="#fff" stroke-width="3"/>
<line x1="318.4" y1="902" x2="318.4" y2="905" stroke="#fff" stroke-width="3"/>
<line x1="318.4" y1="1655.8" x2="318.4" y2="1658.8" stroke="#fff" stroke-width="3"/>
<line x1="548.7" y1="902" x2="548.7" y2="905" stroke="#fff" stroke-width="3"/>
<line x1="548.7" y1="1655.8" x2="548.7" y2="1658.8" stroke="#fff" stroke-width="3"/>
<line x1="675.8" y1="902" x2="675.8" y2="905" stroke="#fff" stroke-width="3"/>
<line x1="675.8" y1="1655.8" x2="675.8" y2="1658.8" stroke="#fff" stroke-width="3"/>
<line x1="811.4" y1="902" x2="811.4" y2="905" stroke="#fff" stroke-width="3"/>
<line x1="811.4" y1="1655.8" x2="811.4" y2="1658.8" stroke="#fff" stroke-width="3"/>
<line x1="139.7" y1="1582.6" x2="142.7" y2="1582.6" stroke="#fff" stroke-width="1.6"/>
<line x1="868.9" y1="1582.6" x2="871.9" y2="1582.6" stroke="#fff" stroke-width="1.6"/>
<line x1="139.7" y1="1476.7" x2="142.7" y2="1476.7" stroke="#fff" stroke-width="1.6"/>
<line x1="868.9" y1="1476.7" x2="871.9" y2="1476.7" stroke="#fff" stroke-width="1.6"/>
<line x1="139.7" y1="1376" x2="142.7" y2="1376" stroke="#fff" stroke-width="1.6"/>
<line x1="868.9" y1="1376" x2="871.9" y2="1376" stroke="#fff" stroke-width="1.6"/>
<line x1="139.7" y1="1302" x2="142.7" y2="1302" stroke="#fff" stroke-width="1.6"/>
<line x1="868.9" y1="1302" x2="871.9" y2="1302" stroke="#fff" stroke-width="1.6"/>
<line x1="139.7" y1="1211.3" x2="142.7" y2="1211.3" stroke="#fff" stroke-width="1.6"/>
<line x1="868.9" y1="1211.3" x2="871.9" y2="1211.3" stroke="#fff" stroke-width="1.6"/>
<line x1="139.7" y1="1094.7" x2="142.7" y2="1094.7" stroke="#fff" stroke-width="1.6"/>
<line x1="868.9" y1="1094.7" x2="871.9" y2="1094.7" stroke="#fff" stroke-width="1.6"/>
<line x1="139.7" y1="989.6" x2="142.7" y2="989.6" stroke="#fff" stroke-width="1.6"/>
<line x1="868.9" y1="989.6" x2="871.9" y2="989.6" stroke="#fff" stroke-width="1.6"/>
<line x1="139.7" y1="948.6" x2="142.7" y2="948.6" stroke="#fff" stroke-width="1.6"/>
<line x1="868.9" y1="948.6" x2="871.9" y2="948.6" stroke="#fff" stroke-width="1.6"/>
<line x1="868.9" y1="1623.6" x2="871.9" y2="1623.6" stroke="#fff" stroke-width="3"/>
<line x1="139.7" y1="1623.6" x2="142.7" y2="1623.6" stroke="#fff" stroke-width="3"/>
<line x1="868.9" y1="1541.7" x2="871.9" y2="1541.7" stroke="#fff" stroke-width="3"/>
<line x1="139.7" y1="1541.7" x2="142.7" y2="1541.7" stroke="#fff" stroke-width="3"/>
<line x1="868.9" y1="1411.8" x2="871.9" y2="1411.8" stroke="#fff" stroke-width="3"/>
<line x1="139.7" y1="1411.8" x2="142.7" y2="1411.8" stroke="#fff" stroke-width="3"/>
<line x1="868.9" y1="1340.2" x2="871.9" y2="1340.2" stroke="#fff" stroke-width="3"/>
<line x1="139.7" y1="1340.2" x2="142.7" y2="1340.2" stroke="#fff" stroke-width="3"/>
<line x1="868.9" y1="1263.7" x2="871.9" y2="1263.7" stroke="#fff" stroke-width="3"/>
<line x1="139.7" y1="1263.7" x2="142.7" y2="1263.7" stroke="#fff" stroke-width="3"/>
<line x1="868.9" y1="1158.9" x2="871.9" y2="1158.9" stroke="#fff" stroke-width="3"/>
<line x1="139.7" y1="1158.9" x2="142.7" y2="1158.9" stroke="#fff" stroke-width="3"/>
<line x1="868.9" y1="1030.6" x2="871.9" y2="1030.6" stroke="#fff" stroke-width="3"/>
<line x1="139.7" y1="1030.6" x2="142.7" y2="1030.6" stroke="#fff" stroke-width="3"/>
<line x1="173" y1="1658.2" x2="173" y2="1665.8" stroke="#111111" stroke-width="2.3"/>
<text transform="translate(173,1694.5) scale(1,1.07)" font-size="27.4" fill="#444444" stroke="#444444" stroke-width="0.4" text-anchor="middle">0</text>
<line x1="318.4" y1="1658.2" x2="318.4" y2="1665.8" stroke="#111111" stroke-width="2.3"/>
<text transform="translate(318.4,1694.5) scale(1,1.07)" font-size="27.4" fill="#444444" stroke="#444444" stroke-width="0.4" text-anchor="middle">1</text>
<line x1="548.7" y1="1658.2" x2="548.7" y2="1665.8" stroke="#111111" stroke-width="2.3"/>
<text transform="translate(548.7,1694.5) scale(1,1.07)" font-size="27.4" fill="#444444" stroke="#444444" stroke-width="0.4" text-anchor="middle">5</text>
<line x1="675.8" y1="1658.2" x2="675.8" y2="1665.8" stroke="#111111" stroke-width="2.3"/>
<text transform="translate(675.8,1694.5) scale(1,1.07)" font-size="27.4" fill="#444444" stroke="#444444" stroke-width="0.4" text-anchor="middle">10</text>
<line x1="811.4" y1="1658.2" x2="811.4" y2="1665.8" stroke="#111111" stroke-width="2.3"/>
<text transform="translate(811.4,1694.5) scale(1,1.07)" font-size="27.4" fill="#444444" stroke="#444444" stroke-width="0.4" text-anchor="middle">20</text>
<line x1="132.7" y1="1623.6" x2="140.3" y2="1623.6" stroke="#111111" stroke-width="2.3"/>
<text transform="translate(124.2,1634.6) scale(1,1.07)" font-size="27.4" fill="#444444" stroke="#444444" stroke-width="0.4" text-anchor="end">0</text>
<line x1="132.7" y1="1541.7" x2="140.3" y2="1541.7" stroke="#111111" stroke-width="2.3"/>
<text transform="translate(124.2,1552.7) scale(1,1.07)" font-size="27.4" fill="#444444" stroke="#444444" stroke-width="0.4" text-anchor="end">1</text>
<line x1="132.7" y1="1411.8" x2="140.3" y2="1411.8" stroke="#111111" stroke-width="2.3"/>
<text transform="translate(124.2,1422.8) scale(1,1.07)" font-size="27.4" fill="#444444" stroke="#444444" stroke-width="0.4" text-anchor="end">5</text>
<line x1="132.7" y1="1340.2" x2="140.3" y2="1340.2" stroke="#111111" stroke-width="2.3"/>
<text transform="translate(124.2,1351.2) scale(1,1.07)" font-size="27.4" fill="#444444" stroke="#444444" stroke-width="0.4" text-anchor="end">10</text>
<line x1="132.7" y1="1263.7" x2="140.3" y2="1263.7" stroke="#111111" stroke-width="2.3"/>
<text transform="translate(124.2,1274.7) scale(1,1.07)" font-size="27.4" fill="#444444" stroke="#444444" stroke-width="0.4" text-anchor="end">20</text>
<line x1="132.7" y1="1158.9" x2="140.3" y2="1158.9" stroke="#111111" stroke-width="2.3"/>
<text transform="translate(124.2,1169.9) scale(1,1.07)" font-size="27.4" fill="#444444" stroke="#444444" stroke-width="0.4" text-anchor="end">50</text>
<line x1="132.7" y1="1030.6" x2="140.3" y2="1030.6" stroke="#111111" stroke-width="2.3"/>
<text transform="translate(124.2,1041.6) scale(1,1.07)" font-size="27.4" fill="#444444" stroke="#444444" stroke-width="0.4" text-anchor="end">150</text>
<circle cx="173.1" cy="936.5" r="6.4" fill="#0000ff"/>
<circle cx="173.1" cy="1243.5" r="6.4" fill="#0000ff"/>
<circle cx="173.1" cy="1247.5" r="6.4" fill="#0000ff"/>
<circle cx="173.1" cy="1282.1" r="6.4" fill="#0000ff"/>
<circle cx="173.1" cy="1339.7" r="6.4" fill="#0000ff"/>
<circle cx="173.1" cy="1429.9" r="6.4" fill="#0000ff"/>
<circle cx="173.1" cy="1517.6" r="6.4" fill="#0000ff"/>
<circle cx="173.1" cy="1543.8" r="6.4" fill="#0000ff"/>
<circle cx="173.1" cy="1623.6" r="6.4" fill="#000000"/>
<circle cx="398" cy="1020" r="6.4" fill="#ff0000"/>
<circle cx="415.2" cy="1016.9" r="6.4" fill="#ff0000"/>
<circle cx="360.4" cy="1036.9" r="6.4" fill="#ff0000"/>
<circle cx="409.3" cy="1051.5" r="6.4" fill="#ff0000"/>
<circle cx="350" cy="1062.4" r="6.4" fill="#ff0000"/>
<circle cx="340.9" cy="1088" r="6.4" fill="#ff0000"/>
<circle cx="421.3" cy="1082.6" r="6.4" fill="#ff0000"/>
<circle cx="430.6" cy="1086.5" r="6.4" fill="#ff0000"/>
<circle cx="320.2" cy="1101.5" r="6.4" fill="#ff0000"/>
<circle cx="394.7" cy="1099.5" r="6.4" fill="#ff0000"/>
<circle cx="504.9" cy="1099.9" r="6.4" fill="#ff0000"/>
<circle cx="519.4" cy="1098.8" r="6.4" fill="#ff0000"/>
<circle cx="323.5" cy="1117.3" r="6.4" fill="#ff0000"/>
<circle cx="359.8" cy="1111.2" r="6.4" fill="#ff0000"/>
<circle cx="427.3" cy="1120.6" r="6.4" fill="#ff0000"/>
<circle cx="451" cy="1126" r="6.4" fill="#ff0000"/>
<circle cx="384.8" cy="1134.7" r="6.4" fill="#ff0000"/>
<circle cx="329.4" cy="1147.3" r="6.4" fill="#ff0000"/>
<circle cx="427.3" cy="1162.5" r="6.4" fill="#ff0000"/>
<circle cx="409.7" cy="1168.4" r="6.4" fill="#ff0000"/>
<circle cx="453.2" cy="1161.8" r="6.4" fill="#ff0000"/>
<circle cx="345.2" cy="1181" r="6.4" fill="#ff0000"/>
<circle cx="430.6" cy="1181" r="6.4" fill="#ff0000"/>
<circle cx="475.1" cy="1189.7" r="6.4" fill="#ff0000"/>
<circle cx="432.1" cy="1196.6" r="6.4" fill="#ff0000"/>
<circle cx="315.9" cy="1197.3" r="6.4" fill="#ff0000"/>
<circle cx="309.8" cy="1215.1" r="6.4" fill="#ff0000"/>
<circle cx="358.2" cy="1211.8" r="6.4" fill="#ff0000"/>
<circle cx="369.1" cy="1206.8" r="6.4" fill="#ff0000"/>
<circle cx="345.9" cy="1225.9" r="6.4" fill="#ff0000"/>
<circle cx="320.9" cy="1240.2" r="6.4" fill="#ff0000"/>
<circle cx="345.9" cy="1244.2" r="6.4" fill="#ff0000"/>
<circle cx="353.9" cy="1252.8" r="6.4" fill="#ff0000"/>
<circle cx="362.6" cy="1260.4" r="6.4" fill="#ff0000"/>
<circle cx="351.3" cy="1270.6" r="6.4" fill="#ff0000"/>
<circle cx="359.8" cy="1291.9" r="6.4" fill="#ff0000"/>
<circle cx="416.9" cy="1244.6" r="6.4" fill="#ff0000"/>
<circle cx="403.2" cy="1264.3" r="6.4" fill="#ff0000"/>
<circle cx="391.9" cy="1285.4" r="6.4" fill="#ff0000"/>
<circle cx="415.8" cy="1278.2" r="6.4" fill="#ff0000"/>
<circle cx="450.1" cy="1260.4" r="6.4" fill="#ff0000"/>
<circle cx="448" cy="1271.9" r="6.4" fill="#ff0000"/>
<circle cx="466.9" cy="1233" r="6.4" fill="#ff0000"/>
<circle cx="486.4" cy="1237" r="6.4" fill="#ff0000"/>
<circle cx="486.4" cy="1256" r="6.4" fill="#ff0000"/>
<circle cx="516.2" cy="1253.4" r="6.4" fill="#ff0000"/>
<circle cx="518.9" cy="1258.7" r="6.4" fill="#ff0000"/>
<circle cx="497.4" cy="1279.6" r="6.4" fill="#ff0000"/>
<circle cx="520" cy="1290.3" r="6.4" fill="#ff0000"/>
<circle cx="309.4" cy="1304" r="6.4" fill="#ff0000"/>
<circle cx="309.4" cy="1308" r="6.4" fill="#ff0000"/>
<circle cx="422.8" cy="1310.4" r="6.4" fill="#ff0000"/>
<circle cx="472.7" cy="1311.5" r="6.4" fill="#ff0000"/>
<circle cx="476.2" cy="1319.1" r="6.4" fill="#ff0000"/>
<circle cx="519.4" cy="1329.6" r="6.4" fill="#ff0000"/>
<circle cx="465.4" cy="1346.7" r="6.4" fill="#ff0000"/>
<circle cx="501.8" cy="1346.5" r="6.4" fill="#ff0000"/>
<circle cx="433.6" cy="1363.6" r="6.4" fill="#ff0000"/>
<circle cx="396.9" cy="1376.6" r="6.4" fill="#ff0000"/>
<circle cx="366.5" cy="1387.5" r="6.4" fill="#ff0000"/>
<circle cx="518.5" cy="1413" r="6.4" fill="#ff0000"/>
<circle cx="428.2" cy="1439.5" r="6.4" fill="#ff0000"/>
<circle cx="296.5" cy="1464" r="6.4" fill="#ff0000"/>
<circle cx="306.1" cy="1462.8" r="6.4" fill="#ff0000"/>
<circle cx="363.7" cy="1477.8" r="6.4" fill="#ff0000"/>
<circle cx="464" cy="1475.1" r="6.4" fill="#ff0000"/>
<circle cx="285.5" cy="1519.3" r="6.4" fill="#ff0000"/>
<circle cx="410.8" cy="1511.7" r="6.4" fill="#ff0000"/>
<circle cx="514.7" cy="1523.6" r="6.4" fill="#ff0000"/>
<circle cx="556.6" cy="995.3" r="6.4" fill="#ff0000"/>
<circle cx="693.4" cy="1037.5" r="6.4" fill="#ff0000"/>
<circle cx="595.4" cy="1098" r="6.4" fill="#ff0000"/>
<circle cx="692.7" cy="1094" r="6.4" fill="#ff0000"/>
<circle cx="543.7" cy="1190.9" r="6.4" fill="#ff0000"/>
<circle cx="603.6" cy="1204.8" r="6.4" fill="#ff0000"/>
<circle cx="634.9" cy="1183.3" r="6.4" fill="#ff0000"/>
<circle cx="837.6" cy="1208.3" r="6.4" fill="#ff0000"/>
<circle cx="683.4" cy="1238" r="6.4" fill="#ff0000"/>
<circle cx="533" cy="1246.1" r="6.4" fill="#ff0000"/>
<circle cx="568.6" cy="1246.1" r="6.4" fill="#ff0000"/>
<circle cx="678.1" cy="1259.3" r="6.4" fill="#ff0000"/>
<circle cx="530.8" cy="1271.3" r="6.4" fill="#ff0000"/>
<circle cx="542.8" cy="1299.5" r="6.4" fill="#ff0000"/>
<circle cx="566.5" cy="1314.1" r="6.4" fill="#ff0000"/>
<circle cx="678.1" cy="1314.1" r="6.4" fill="#ff0000"/>
<circle cx="565.6" cy="1427" r="6.4" fill="#ff0000"/>
<circle cx="354.2" cy="1623.6" r="6.4" fill="#00ff00"/>
<circle cx="362.5" cy="1623.6" r="6.4" fill="#00ff00"/>
<circle cx="372.5" cy="1623.6" r="6.4" fill="#00ff00"/>
<circle cx="378.8" cy="1623.6" r="6.4" fill="#00ff00"/>
<circle cx="396.9" cy="1623.6" r="6.4" fill="#00ff00"/>
<circle cx="418.3" cy="1623.6" r="6.4" fill="#00ff00"/>
<circle cx="426.3" cy="1623.6" r="6.4" fill="#00ff00"/>
<circle cx="465.7" cy="1623.6" r="6.4" fill="#00ff00"/>
<circle cx="469.8" cy="1623.6" r="6.4" fill="#00ff00"/>
<circle cx="512.2" cy="1623.6" r="6.4" fill="#00ff00"/>
<circle cx="518.5" cy="1623.6" r="6.4" fill="#00ff00"/>
<circle cx="590" cy="1623.6" r="6.4" fill="#00ff00"/>
<circle cx="662" cy="1623.6" r="6.4" fill="#00ff00"/>
<circle cx="710.7" cy="1623.6" r="6.4" fill="#00ff00"/>
<circle cx="750.3" cy="1623.6" r="6.4" fill="#00ff00"/>
</g>
<g id="BR">
<rect x="1035.2" y="903.5" width="729.7" height="753.8" fill="none" stroke="#111111" stroke-width="2.1"/>
<line x1="1140.2" y1="902" x2="1140.2" y2="905" stroke="#fff" stroke-width="1.6"/>
<line x1="1140.2" y1="1655.8" x2="1140.2" y2="1658.8" stroke="#fff" stroke-width="1.6"/>
<line x1="1327.9" y1="902" x2="1327.9" y2="905" stroke="#fff" stroke-width="1.6"/>
<line x1="1327.9" y1="1655.8" x2="1327.9" y2="1658.8" stroke="#fff" stroke-width="1.6"/>
<line x1="1506.5" y1="902" x2="1506.5" y2="905" stroke="#fff" stroke-width="1.6"/>
<line x1="1506.5" y1="1655.8" x2="1506.5" y2="1658.8" stroke="#fff" stroke-width="1.6"/>
<line x1="1637.7" y1="902" x2="1637.7" y2="905" stroke="#fff" stroke-width="1.6"/>
<line x1="1637.7" y1="1655.8" x2="1637.7" y2="1658.8" stroke="#fff" stroke-width="1.6"/>
<line x1="1067.6" y1="902" x2="1067.6" y2="905" stroke="#fff" stroke-width="3"/>
<line x1="1067.6" y1="1655.8" x2="1067.6" y2="1658.8" stroke="#fff" stroke-width="3"/>
<line x1="1212.8" y1="902" x2="1212.8" y2="905" stroke="#fff" stroke-width="3"/>
<line x1="1212.8" y1="1655.8" x2="1212.8" y2="1658.8" stroke="#fff" stroke-width="3"/>
<line x1="1443" y1="902" x2="1443" y2="905" stroke="#fff" stroke-width="3"/>
<line x1="1443" y1="1655.8" x2="1443" y2="1658.8" stroke="#fff" stroke-width="3"/>
<line x1="1570" y1="902" x2="1570" y2="905" stroke="#fff" stroke-width="3"/>
<line x1="1570" y1="1655.8" x2="1570" y2="1658.8" stroke="#fff" stroke-width="3"/>
<line x1="1705.4" y1="902" x2="1705.4" y2="905" stroke="#fff" stroke-width="3"/>
<line x1="1705.4" y1="1655.8" x2="1705.4" y2="1658.8" stroke="#fff" stroke-width="3"/>
<line x1="1033.7" y1="1582.6" x2="1036.7" y2="1582.6" stroke="#fff" stroke-width="1.6"/>
<line x1="1763.4" y1="1582.6" x2="1766.4" y2="1582.6" stroke="#fff" stroke-width="1.6"/>
<line x1="1033.7" y1="1476.7" x2="1036.7" y2="1476.7" stroke="#fff" stroke-width="1.6"/>
<line x1="1763.4" y1="1476.7" x2="1766.4" y2="1476.7" stroke="#fff" stroke-width="1.6"/>
<line x1="1033.7" y1="1376" x2="1036.7" y2="1376" stroke="#fff" stroke-width="1.6"/>
<line x1="1763.4" y1="1376" x2="1766.4" y2="1376" stroke="#fff" stroke-width="1.6"/>
<line x1="1033.7" y1="1302" x2="1036.7" y2="1302" stroke="#fff" stroke-width="1.6"/>
<line x1="1763.4" y1="1302" x2="1766.4" y2="1302" stroke="#fff" stroke-width="1.6"/>
<line x1="1033.7" y1="1211.3" x2="1036.7" y2="1211.3" stroke="#fff" stroke-width="1.6"/>
<line x1="1763.4" y1="1211.3" x2="1766.4" y2="1211.3" stroke="#fff" stroke-width="1.6"/>
<line x1="1033.7" y1="1094.7" x2="1036.7" y2="1094.7" stroke="#fff" stroke-width="1.6"/>
<line x1="1763.4" y1="1094.7" x2="1766.4" y2="1094.7" stroke="#fff" stroke-width="1.6"/>
<line x1="1033.7" y1="989.6" x2="1036.7" y2="989.6" stroke="#fff" stroke-width="1.6"/>
<line x1="1763.4" y1="989.6" x2="1766.4" y2="989.6" stroke="#fff" stroke-width="1.6"/>
<line x1="1033.7" y1="948.6" x2="1036.7" y2="948.6" stroke="#fff" stroke-width="1.6"/>
<line x1="1763.4" y1="948.6" x2="1766.4" y2="948.6" stroke="#fff" stroke-width="1.6"/>
<line x1="1763.4" y1="1623.6" x2="1766.4" y2="1623.6" stroke="#fff" stroke-width="3"/>
<line x1="1033.7" y1="1623.6" x2="1036.7" y2="1623.6" stroke="#fff" stroke-width="3"/>
<line x1="1763.4" y1="1541.7" x2="1766.4" y2="1541.7" stroke="#fff" stroke-width="3"/>
<line x1="1033.7" y1="1541.7" x2="1036.7" y2="1541.7" stroke="#fff" stroke-width="3"/>
<line x1="1763.4" y1="1411.8" x2="1766.4" y2="1411.8" stroke="#fff" stroke-width="3"/>
<line x1="1033.7" y1="1411.8" x2="1036.7" y2="1411.8" stroke="#fff" stroke-width="3"/>
<line x1="1763.4" y1="1340.2" x2="1766.4" y2="1340.2" stroke="#fff" stroke-width="3"/>
<line x1="1033.7" y1="1340.2" x2="1036.7" y2="1340.2" stroke="#fff" stroke-width="3"/>
<line x1="1763.4" y1="1263.7" x2="1766.4" y2="1263.7" stroke="#fff" stroke-width="3"/>
<line x1="1033.7" y1="1263.7" x2="1036.7" y2="1263.7" stroke="#fff" stroke-width="3"/>
<line x1="1763.4" y1="1158.9" x2="1766.4" y2="1158.9" stroke="#fff" stroke-width="3"/>
<line x1="1033.7" y1="1158.9" x2="1036.7" y2="1158.9" stroke="#fff" stroke-width="3"/>
<line x1="1763.4" y1="1030.6" x2="1766.4" y2="1030.6" stroke="#fff" stroke-width="3"/>
<line x1="1033.7" y1="1030.6" x2="1036.7" y2="1030.6" stroke="#fff" stroke-width="3"/>
<line x1="1067.6" y1="1658.2" x2="1067.6" y2="1665.8" stroke="#111111" stroke-width="2.3"/>
<text transform="translate(1067.6,1694.5) scale(1,1.07)" font-size="27.4" fill="#444444" stroke="#444444" stroke-width="0.4" text-anchor="middle">0</text>
<line x1="1212.8" y1="1658.2" x2="1212.8" y2="1665.8" stroke="#111111" stroke-width="2.3"/>
<text transform="translate(1212.8,1694.5) scale(1,1.07)" font-size="27.4" fill="#444444" stroke="#444444" stroke-width="0.4" text-anchor="middle">1</text>
<line x1="1443" y1="1658.2" x2="1443" y2="1665.8" stroke="#111111" stroke-width="2.3"/>
<text transform="translate(1443,1694.5) scale(1,1.07)" font-size="27.4" fill="#444444" stroke="#444444" stroke-width="0.4" text-anchor="middle">5</text>
<line x1="1570" y1="1658.2" x2="1570" y2="1665.8" stroke="#111111" stroke-width="2.3"/>
<text transform="translate(1570,1694.5) scale(1,1.07)" font-size="27.4" fill="#444444" stroke="#444444" stroke-width="0.4" text-anchor="middle">10</text>
<line x1="1705.4" y1="1658.2" x2="1705.4" y2="1665.8" stroke="#111111" stroke-width="2.3"/>
<text transform="translate(1705.4,1694.5) scale(1,1.07)" font-size="27.4" fill="#444444" stroke="#444444" stroke-width="0.4" text-anchor="middle">20</text>
<line x1="1026.7" y1="1623.6" x2="1034.3" y2="1623.6" stroke="#111111" stroke-width="2.3"/>
<text transform="translate(1018.2,1634.6) scale(1,1.07)" font-size="27.4" fill="#444444" stroke="#444444" stroke-width="0.4" text-anchor="end">0</text>
<line x1="1026.7" y1="1541.7" x2="1034.3" y2="1541.7" stroke="#111111" stroke-width="2.3"/>
<text transform="translate(1018.2,1552.7) scale(1,1.07)" font-size="27.4" fill="#444444" stroke="#444444" stroke-width="0.4" text-anchor="end">1</text>
<line x1="1026.7" y1="1411.8" x2="1034.3" y2="1411.8" stroke="#111111" stroke-width="2.3"/>
<text transform="translate(1018.2,1422.8) scale(1,1.07)" font-size="27.4" fill="#444444" stroke="#444444" stroke-width="0.4" text-anchor="end">5</text>
<line x1="1026.7" y1="1340.2" x2="1034.3" y2="1340.2" stroke="#111111" stroke-width="2.3"/>
<text transform="translate(1018.2,1351.2) scale(1,1.07)" font-size="27.4" fill="#444444" stroke="#444444" stroke-width="0.4" text-anchor="end">10</text>
<line x1="1026.7" y1="1263.7" x2="1034.3" y2="1263.7" stroke="#111111" stroke-width="2.3"/>
<text transform="translate(1018.2,1274.7) scale(1,1.07)" font-size="27.4" fill="#444444" stroke="#444444" stroke-width="0.4" text-anchor="end">20</text>
<line x1="1026.7" y1="1158.9" x2="1034.3" y2="1158.9" stroke="#111111" stroke-width="2.3"/>
<text transform="translate(1018.2,1169.9) scale(1,1.07)" font-size="27.4" fill="#444444" stroke="#444444" stroke-width="0.4" text-anchor="end">50</text>
<line x1="1026.7" y1="1030.6" x2="1034.3" y2="1030.6" stroke="#111111" stroke-width="2.3"/>
<text transform="translate(1018.2,1041.6) scale(1,1.07)" font-size="27.4" fill="#444444" stroke="#444444" stroke-width="0.4" text-anchor="end">150</text>
<circle cx="1067.6" cy="936.3" r="6.4" fill="#0000ff"/>
<circle cx="1067.6" cy="1243.5" r="6.4" fill="#0000ff"/>
<circle cx="1067.6" cy="1247.5" r="6.4" fill="#0000ff"/>
<circle cx="1067.6" cy="1282.3" r="6.4" fill="#0000ff"/>
<circle cx="1067.6" cy="1339.4" r="6.4" fill="#0000ff"/>
<circle cx="1067.6" cy="1429.8" r="6.4" fill="#0000ff"/>
<circle cx="1067.6" cy="1518" r="6.4" fill="#0000ff"/>
<circle cx="1067.6" cy="1543.8" r="6.4" fill="#0000ff"/>
<circle cx="1067.6" cy="1623.3" r="6.4" fill="#000000"/>
<circle cx="1513.6" cy="995.4" r="6.4" fill="#ff0000"/>
<circle cx="1523.4" cy="1020.2" r="6.4" fill="#ff0000"/>
<circle cx="1607.7" cy="1016.9" r="6.4" fill="#ff0000"/>
<circle cx="1613.1" cy="1037.1" r="6.4" fill="#ff0000"/>
<circle cx="1721.7" cy="1038.2" r="6.4" fill="#ff0000"/>
<circle cx="1577.3" cy="1051.2" r="6.4" fill="#ff0000"/>
<circle cx="1481" cy="1062.1" r="6.4" fill="#ff0000"/>
<circle cx="1528.2" cy="1083.4" r="6.4" fill="#ff0000"/>
<circle cx="1489.7" cy="1088.2" r="6.4" fill="#ff0000"/>
<circle cx="1489.7" cy="1098" r="6.4" fill="#ff0000"/>
<circle cx="1513.6" cy="1099" r="6.4" fill="#ff0000"/>
<circle cx="1586.8" cy="1093.6" r="6.4" fill="#ff0000"/>
<circle cx="1578.8" cy="1100.1" r="6.4" fill="#ff0000"/>
<circle cx="1576" cy="1110.6" r="6.4" fill="#ff0000"/>
<circle cx="1607.7" cy="1101.6" r="6.4" fill="#ff0000"/>
<circle cx="1649.4" cy="1098.4" r="6.4" fill="#ff0000"/>
<circle cx="1687.4" cy="1086.4" r="6.4" fill="#ff0000"/>
<circle cx="1541.9" cy="1116.9" r="6.4" fill="#ff0000"/>
<circle cx="1591.8" cy="1120.8" r="6.4" fill="#ff0000"/>
<circle cx="1607.7" cy="1126.2" r="6.4" fill="#ff0000"/>
<circle cx="1586.4" cy="1134.5" r="6.4" fill="#ff0000"/>
<circle cx="1506" cy="1146.8" r="6.4" fill="#ff0000"/>
<circle cx="1537.1" cy="1162.5" r="6.4" fill="#ff0000"/>
<circle cx="1569.7" cy="1161.6" r="6.4" fill="#ff0000"/>
<circle cx="1559.9" cy="1168.6" r="6.4" fill="#ff0000"/>
<circle cx="1513.6" cy="1181.6" r="6.4" fill="#ff0000"/>
<circle cx="1577.3" cy="1181.2" r="6.4" fill="#ff0000"/>
<circle cx="1575.8" cy="1188.5" r="6.4" fill="#ff0000"/>
<circle cx="1581.6" cy="1192" r="6.4" fill="#ff0000"/>
<circle cx="1649" cy="1183.3" r="6.4" fill="#ff0000"/>
<circle cx="1666.3" cy="1196.2" r="6.4" fill="#ff0000"/>
<circle cx="1545.5" cy="1197.8" r="6.4" fill="#ff0000"/>
<circle cx="1731.5" cy="1208.4" r="6.4" fill="#ff0000"/>
<circle cx="1497.3" cy="1204.6" r="6.4" fill="#ff0000"/>
<circle cx="1503.8" cy="1207.5" r="6.4" fill="#ff0000"/>
<circle cx="1491.9" cy="1212.2" r="6.4" fill="#ff0000"/>
<circle cx="1506" cy="1215.5" r="6.4" fill="#ff0000"/>
<circle cx="1436" cy="1225.8" r="6.4" fill="#ff0000"/>
<circle cx="1400.6" cy="1240.2" r="6.4" fill="#ff0000"/>
<circle cx="1462.6" cy="1246" r="6.4" fill="#ff0000"/>
<circle cx="1465.8" cy="1253" r="6.4" fill="#ff0000"/>
<circle cx="1498" cy="1245.4" r="6.4" fill="#ff0000"/>
<circle cx="1539.7" cy="1243.9" r="6.4" fill="#ff0000"/>
<circle cx="1589.6" cy="1232.4" r="6.4" fill="#ff0000"/>
<circle cx="1578.8" cy="1237.8" r="6.4" fill="#ff0000"/>
<circle cx="1589.6" cy="1246.5" r="6.4" fill="#ff0000"/>
<circle cx="1639" cy="1243.9" r="6.4" fill="#ff0000"/>
<circle cx="1637" cy="1254.1" r="6.4" fill="#ff0000"/>
<circle cx="1412.8" cy="1258.4" r="6.4" fill="#ff0000"/>
<circle cx="1492.3" cy="1264.5" r="6.4" fill="#ff0000"/>
<circle cx="1526" cy="1256.3" r="6.4" fill="#ff0000"/>
<circle cx="1572.3" cy="1259.5" r="6.4" fill="#ff0000"/>
<circle cx="1584.9" cy="1260.6" r="6.4" fill="#ff0000"/>
<circle cx="1616.2" cy="1260.6" r="6.4" fill="#ff0000"/>
<circle cx="1425" cy="1271.5" r="6.4" fill="#ff0000"/>
<circle cx="1465.8" cy="1272.1" r="6.4" fill="#ff0000"/>
<circle cx="1532.7" cy="1270.8" r="6.4" fill="#ff0000"/>
<circle cx="1392.2" cy="1279.8" r="6.4" fill="#ff0000"/>
<circle cx="1452.8" cy="1284.9" r="6.4" fill="#ff0000"/>
<circle cx="1469.5" cy="1292.1" r="6.4" fill="#ff0000"/>
<circle cx="1558.6" cy="1278" r="6.4" fill="#ff0000"/>
<circle cx="1556" cy="1290.4" r="6.4" fill="#ff0000"/>
<circle cx="1596.6" cy="1299.7" r="6.4" fill="#ff0000"/>
<circle cx="1579.2" cy="1303" r="6.4" fill="#ff0000"/>
<circle cx="1443" cy="1308.4" r="6.4" fill="#ff0000"/>
<circle cx="1465.8" cy="1311.7" r="6.4" fill="#ff0000"/>
<circle cx="1459.7" cy="1319.7" r="6.4" fill="#ff0000"/>
<circle cx="1534.9" cy="1310.1" r="6.4" fill="#ff0000"/>
<circle cx="1572.3" cy="1314.3" r="6.4" fill="#ff0000"/>
<circle cx="1601.6" cy="1314.3" r="6.4" fill="#ff0000"/>
<circle cx="1481" cy="1329.7" r="6.4" fill="#ff0000"/>
<circle cx="1396" cy="1346.4" r="6.4" fill="#ff0000"/>
<circle cx="1483.8" cy="1346.4" r="6.4" fill="#ff0000"/>
<circle cx="1641.8" cy="1363.8" r="6.4" fill="#ff0000"/>
<circle cx="1446.7" cy="1376.8" r="6.4" fill="#ff0000"/>
<circle cx="1425" cy="1387.3" r="6.4" fill="#ff0000"/>
<circle cx="1412.5" cy="1413.3" r="6.4" fill="#ff0000"/>
<circle cx="1459.7" cy="1426.8" r="6.4" fill="#ff0000"/>
<circle cx="1589.6" cy="1438.9" r="6.4" fill="#ff0000"/>
<circle cx="1275.7" cy="1464.1" r="6.4" fill="#ff0000"/>
<circle cx="1400.6" cy="1463" r="6.4" fill="#ff0000"/>
<circle cx="1358" cy="1475" r="6.4" fill="#ff0000"/>
<circle cx="1250.7" cy="1519" r="6.4" fill="#ff0000"/>
<circle cx="1304.8" cy="1511.4" r="6.4" fill="#ff0000"/>
<circle cx="1408.8" cy="1523.6" r="6.4" fill="#ff0000"/>
<circle cx="1502.7" cy="1478.2" r="6.4" fill="#ff0000"/>
<circle cx="1373.3" cy="1623.3" r="6.4" fill="#00ff00"/>
<circle cx="1413.5" cy="1623.3" r="6.4" fill="#00ff00"/>
<circle cx="1420.5" cy="1623.3" r="6.4" fill="#00ff00"/>
<circle cx="1436.3" cy="1623.3" r="6.4" fill="#00ff00"/>
<circle cx="1445" cy="1623.3" r="6.4" fill="#00ff00"/>
<circle cx="1452.3" cy="1623.3" r="6.4" fill="#00ff00"/>
<circle cx="1469.5" cy="1623.3" r="6.4" fill="#00ff00"/>
<circle cx="1484.6" cy="1623.3" r="6.4" fill="#00ff00"/>
<circle cx="1489.6" cy="1623.3" r="6.4" fill="#00ff00"/>
<circle cx="1511" cy="1623.3" r="6.4" fill="#00ff00"/>
<circle cx="1520" cy="1623.3" r="6.4" fill="#00ff00"/>
<circle cx="1556" cy="1623.3" r="6.4" fill="#00ff00"/>
<circle cx="1604.9" cy="1623.3" r="6.4" fill="#00ff00"/>
<circle cx="1644.4" cy="1623.3" r="6.4" fill="#00ff00"/>
</g>
<g class="t"><text transform="translate(51.9,609.5) rotate(-90)" font-size="38.5" fill="#000" letter-spacing="-0.75">Liana</text>
<text transform="translate(51.9,493.5) rotate(-90)" font-size="38.5" fill="#000" letter-spacing="0.8">leaf</text>
<text transform="translate(51.9,410.6) rotate(-90)" font-size="38.5" fill="#000" letter-spacing="-0.15">coverage</text>
<text transform="translate(51.9,231.9) rotate(-90) scale(1.05,1.0)" font-size="48" fill="#000" style="font-family:'Liberation Serif',serif">(</text>
<text transform="translate(51.9,216.6) rotate(-90)" font-size="38.5" fill="#000">m</text>
<text transform="translate(32.3,185.5) rotate(-90)" font-size="27" fill="#000">2</text>
<text transform="translate(51.9,172.1) rotate(-90) scale(1.05,1.0)" font-size="48" fill="#000" style="font-family:'Liberation Serif',serif">)</text>
<text transform="translate(946.2,609.5) rotate(-90)" font-size="38.5" fill="#000" letter-spacing="-0.75">Liana</text>
<text transform="translate(946.2,493.5) rotate(-90)" font-size="38.5" fill="#000" letter-spacing="0.8">leaf</text>
<text transform="translate(946.2,410.6) rotate(-90)" font-size="38.5" fill="#000" letter-spacing="-0.15">coverage</text>
<text transform="translate(946.2,231.9) rotate(-90) scale(1.05,1.0)" font-size="48" fill="#000" style="font-family:'Liberation Serif',serif">(</text>
<text transform="translate(946.2,216.6) rotate(-90)" font-size="38.5" fill="#000">m</text>
<text transform="translate(926.6,185.5) rotate(-90)" font-size="27" fill="#000">2</text>
<text transform="translate(946.2,172.1) rotate(-90) scale(1.05,1.0)" font-size="48" fill="#000" style="font-family:'Liberation Serif',serif">)</text>
<g transform="translate(0,897.5)"><text transform="translate(51.9,609.5) rotate(-90)" font-size="38.5" fill="#000" letter-spacing="-0.75">Liana</text>
<text transform="translate(51.9,493.5) rotate(-90)" font-size="38.5" fill="#000" letter-spacing="0.8">leaf</text>
<text transform="translate(51.9,410.6) rotate(-90)" font-size="38.5" fill="#000" letter-spacing="-0.15">coverage</text>
<text transform="translate(51.9,231.9) rotate(-90) scale(1.05,1.0)" font-size="48" fill="#000" style="font-family:'Liberation Serif',serif">(</text>
<text transform="translate(51.9,216.6) rotate(-90)" font-size="38.5" fill="#000">m</text>
<text transform="translate(32.3,185.5) rotate(-90)" font-size="27" fill="#000">2</text>
<text transform="translate(51.9,172.1) rotate(-90) scale(1.05,1.0)" font-size="48" fill="#000" style="font-family:'Liberation Serif',serif">)</text><text transform="translate(946.2,609.5) rotate(-90)" font-size="38.5" fill="#000" letter-spacing="-0.75">Liana</text>
<text transform="translate(946.2,493.5) rotate(-90)" font-size="38.5" fill="#000" letter-spacing="0.8">leaf</text>
<text transform="translate(946.2,410.6) rotate(-90)" font-size="38.5" fill="#000" letter-spacing="-0.15">coverage</text>
<text transform="translate(946.2,231.9) rotate(-90) scale(1.05,1.0)" font-size="48" fill="#000" style="font-family:'Liberation Serif',serif">(</text>
<text transform="translate(946.2,216.6) rotate(-90)" font-size="38.5" fill="#000">m</text>
<text transform="translate(926.6,185.5) rotate(-90)" font-size="27" fill="#000">2</text>
<text transform="translate(946.2,172.1) rotate(-90) scale(1.05,1.0)" font-size="48" fill="#000" style="font-family:'Liberation Serif',serif">)</text></g>
<text x="484.7" y="846.8" font-size="38.5" fill="#000">N</text>
<text x="512.0" y="853.3" font-size="27" fill="#000">L</text>
<text x="1308.7" y="850.3" font-size="38.5" fill="#000">BA</text>
<text x="1359.0" y="857.7" font-size="27" fill="#000">L</text>
<text transform="translate(1393.9,850.8) scale(1.05,1.0)" font-size="48" fill="#000" style="font-family:'Liberation Serif',serif">(</text>
<text x="1410.3" y="850.3" font-size="38.5" fill="#000">cm</text>
<text x="1459.1" y="832.2" font-size="27" fill="#000">2</text>
<text transform="translate(1472.9,850.8) scale(1.05,1.0)" font-size="48" fill="#000" style="font-family:'Liberation Serif',serif">)</text>
<text x="412.2" y="1742.1" font-size="38.5" fill="#000">QMD</text>
<text x="500.5" y="1749.3" font-size="27" fill="#000">L</text>
<text transform="translate(536.6,1741.6) scale(1.05,1.0)" font-size="48" fill="#000" style="font-family:'Liberation Serif',serif">(</text>
<text x="551.1" y="1742.1" font-size="38.5" fill="#000">m</text>
<text transform="translate(580.8,1741.6) scale(1.05,1.0)" font-size="48" fill="#000" style="font-family:'Liberation Serif',serif">)</text>
<text x="1301.9" y="1742.8" font-size="38.5" fill="#000" letter-spacing="-0.8">Dmax</text>
<text x="1398.5" y="1749.0" font-size="27" fill="#000">L</text>
<text transform="translate(1435.0,1742.0) scale(1.05,1.0)" font-size="48" fill="#000" style="font-family:'Liberation Serif',serif">(</text>
<text x="1449.6" y="1742.8" font-size="38.5" fill="#000">m</text>
<text transform="translate(1479.5,1742.0) scale(1.05,1.0)" font-size="48" fill="#000" style="font-family:'Liberation Serif',serif">)</text></g>
</svg></body></html>
